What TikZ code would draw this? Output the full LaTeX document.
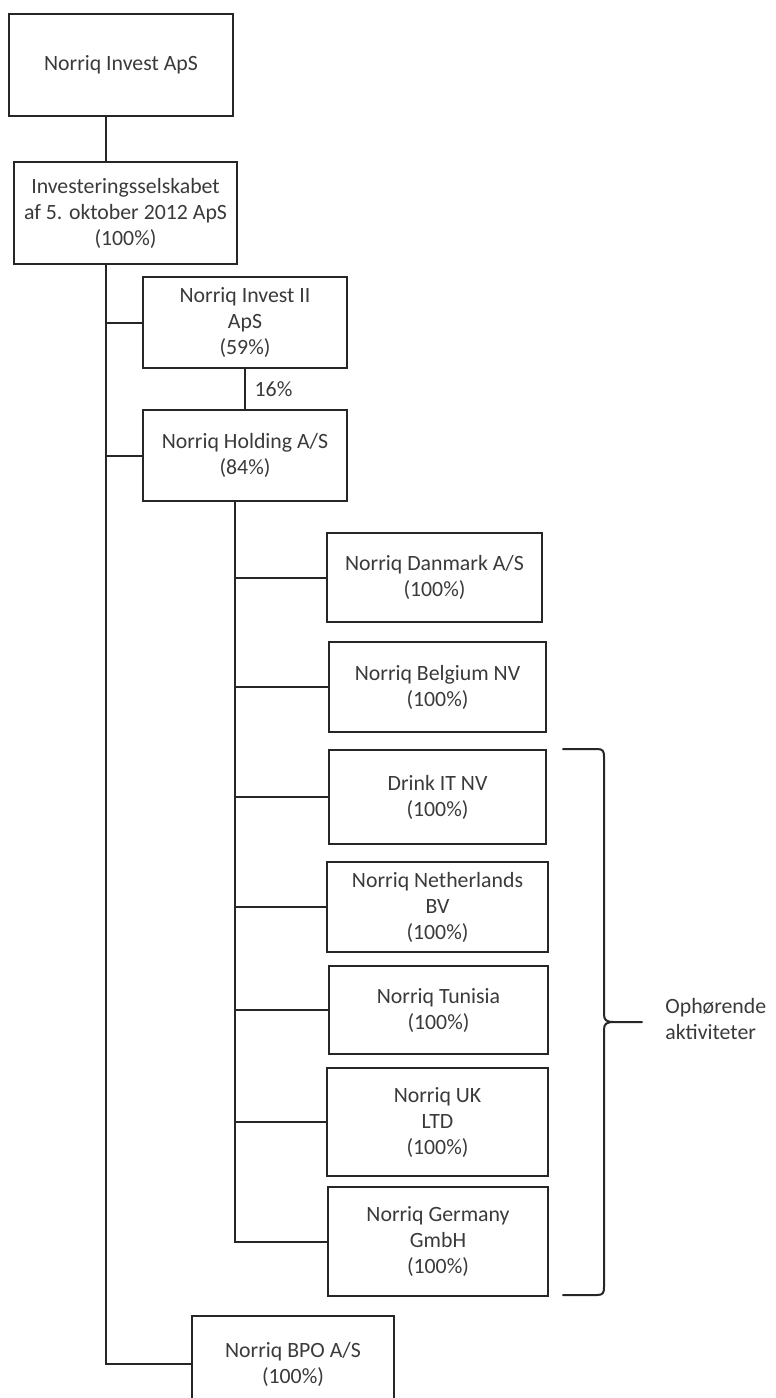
\documentclass[tikz,border=0pt]{standalone}
\usepackage{fontspec}
\setmainfont{Carlito}
\usepackage{xcolor}
\usetikzlibrary{calc,positioning}
\definecolor{org-ink}{HTML}{262626}
\definecolor{org-text}{HTML}{3A3A3A}

\begin{document}
\begin{tikzpicture}[x=0.5pt,y=-0.5pt,
    selskab/.style={draw=org-ink,line width=1pt,align=center,inner sep=0pt,
      text=org-text,font=\fontsize{10.9pt}{13pt}\selectfont},
    forbind/.style={draw=org-ink,line width=1pt}]
  \useasboundingbox (0,0) rectangle (776,1398);

  % Moderselskaber
  \node[selskab,minimum width=112pt,minimum height=51pt] (top) at (121,65) {Norriq Invest ApS};
  \node[selskab,minimum width=111.5pt,minimum height=51pt] (inv5) at (125.5,213)
    {Investeringsselskabet\\af 5. oktober 2012 ApS\\(100\%)};
  \node[selskab,minimum width=102pt,minimum height=45.5pt] (inv2) at (245,322.5)
    {Norriq Invest II\\ApS\\(59\%)};
  \node[selskab,minimum width=102pt,minimum height=45.5pt] (hold) at (245,455.5)
    {Norriq Holding A/S\\(84\%)};

  % Datterselskaber
  \node[selskab,minimum width=107.5pt,minimum height=44.5pt] (dk) at (434.5,577.5)
    {Norriq Danmark A/S\\(100\%)};
  \node[selskab,minimum width=108.5pt,minimum height=45pt] (be) at (437.5,687)
    {Norriq Belgium NV\\(100\%)};
  \node[selskab,minimum width=108.5pt,minimum height=47pt] (drink) at (437.5,797)
    {Drink IT NV\\(100\%)};
  \node[selskab,minimum width=110.5pt,minimum height=45pt] (nl) at (437.5,907)
    {Norriq Netherlands\\BV\\(100\%)};
  \node[selskab,minimum width=109.5pt,minimum height=44pt] (tn) at (438.5,1010)
    {Norriq Tunisia\\(100\%)};
  \node[selskab,minimum width=110.5pt,minimum height=54pt] (uk) at (437.5,1122)
    {Norriq UK\\LTD\\(100\%)};
  \node[selskab,minimum width=110pt,minimum height=54.5pt] (de) at (438,1241.5)
    {Norriq Germany\\GmbH\\(100\%)};
  \node[selskab,minimum width=101pt,minimum height=48pt] (bpo) at (293,1364)
    {Norriq BPO A/S\\(100\%)};

  % Hovedstamme
  \coordinate (trunk) at (106,0);
  \coordinate (sub) at (235,0);
  \draw[forbind] (top.south -| trunk) -- (inv5.north -| trunk);
  \draw[forbind] (inv5.south -| trunk) |- (bpo.west);
  \draw[forbind] (inv2.west -| trunk) -- (inv2.west);
  \draw[forbind] (hold.west -| trunk) -- (hold.west);
  \draw[forbind] (inv2) -- node[right=1pt,text=org-text,font=\fontsize{10.9pt}{13pt}\selectfont] {16\%} (hold);

  % Grene til datterselskaber
  \draw[forbind] (hold.south -| sub) |- (de.west);
  \foreach \n in {dk,be,drink,nl,tn,uk} {
    \draw[forbind] (\n.west -| sub) -- (\n.west);
  }

  % Klamme og tekst
  \coordinate (tip) at (642,1022);
  \draw[forbind,line cap=round]
    (563,749) -- (597,749) .. controls (603,749) and (604,751) .. (604,757)
    -- (604,1014) .. controls (604,1020) and (606,1022) .. (614,1022) -- (tip)
    (614,1022) .. controls (606,1022) and (604,1024) .. (604,1030)
    -- (604,1287) .. controls (604,1293) and (603,1295) .. (597,1295) -- (563,1295);
  \node[anchor=west,align=left,inner sep=0pt,text=org-text,
    font=\fontsize{10.9pt}{13pt}\selectfont] (ophor) at (665,1019)
    {Ophørende\\aktiviteter};
\end{tikzpicture}
\end{document}
